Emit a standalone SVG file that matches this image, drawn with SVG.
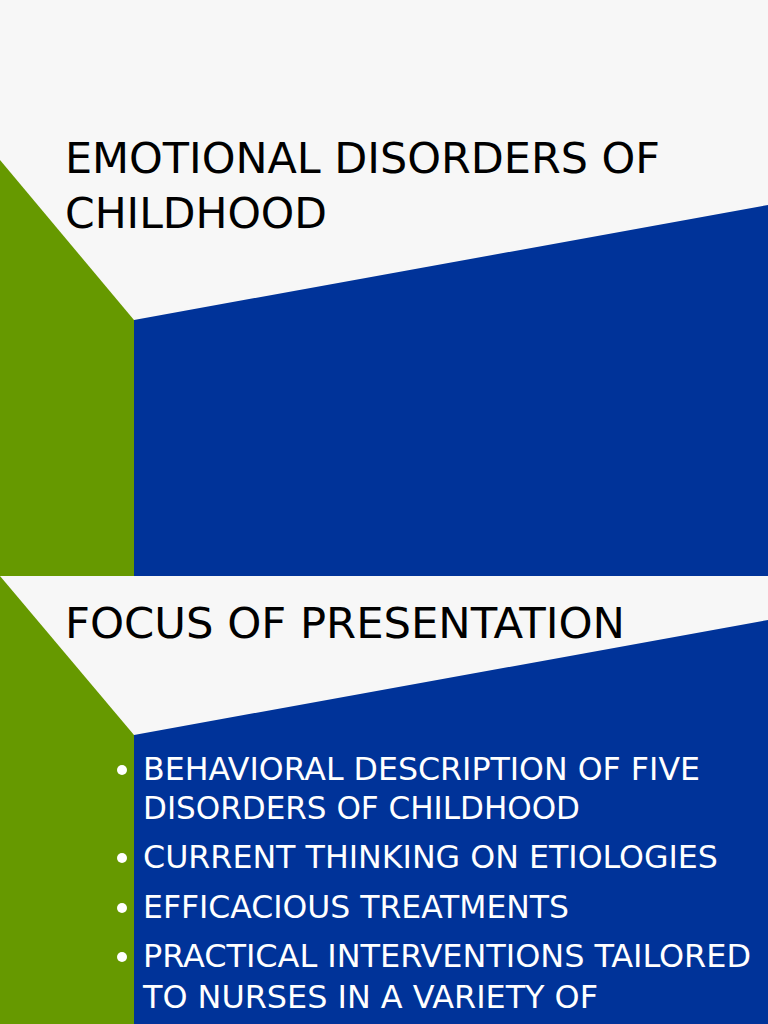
<svg xmlns="http://www.w3.org/2000/svg" width="768" height="1024" viewBox="0 0 768 1024">
<style>
.t{font-family:"DejaVu Sans Condensed","DejaVu Sans",sans-serif;fill:#000;font-size:42px}
.b{font-family:"DejaVu Sans Condensed","DejaVu Sans",sans-serif;fill:#fff;font-size:32px}
.g{fill:#669900}.bl{fill:#003399}
</style>
<rect width="768" height="1024" fill="#f7f7f7"/>
<g id="slide1">
<polygon class="g" points="0,160 134,320 134,576 0,576"/>
<polygon class="bl" points="134,320 768,205 768,576 134,576"/>
<text class="t" x="65" y="173" textLength="595" lengthAdjust="spacingAndGlyphs">EMOTIONAL DISORDERS OF</text>
<text class="t" x="65" y="228" textLength="262" lengthAdjust="spacingAndGlyphs">CHILDHOOD</text>
</g>
<g id="slide2">
<polygon class="g" points="0,576 134,735 134,1024 0,1024"/>
<polygon class="bl" points="134,735 768,620 768,1024 134,1024"/>
<text class="t" x="65" y="638" textLength="560" lengthAdjust="spacingAndGlyphs">FOCUS OF PRESENTATION</text>
<g fill="#fff"><circle cx="122" cy="770" r="5"/><circle cx="122" cy="858" r="5"/><circle cx="122" cy="908" r="5"/><circle cx="122" cy="957" r="5"/></g>
<text class="b" x="143" y="780" textLength="557" lengthAdjust="spacingAndGlyphs">BEHAVIORAL DESCRIPTION OF FIVE</text>
<text class="b" x="143" y="819" textLength="437" lengthAdjust="spacingAndGlyphs">DISORDERS OF CHILDHOOD</text>
<text class="b" x="143" y="868" textLength="575" lengthAdjust="spacingAndGlyphs">CURRENT THINKING ON ETIOLOGIES</text>
<text class="b" x="143" y="918" textLength="426" lengthAdjust="spacingAndGlyphs">EFFICACIOUS TREATMENTS</text>
<text class="b" x="143" y="967" textLength="608" lengthAdjust="spacingAndGlyphs">PRACTICAL INTERVENTIONS TAILORED</text>
<text class="b" x="143" y="1008" textLength="455" lengthAdjust="spacingAndGlyphs">TO NURSES IN A VARIETY OF</text>
</g>
</svg>
